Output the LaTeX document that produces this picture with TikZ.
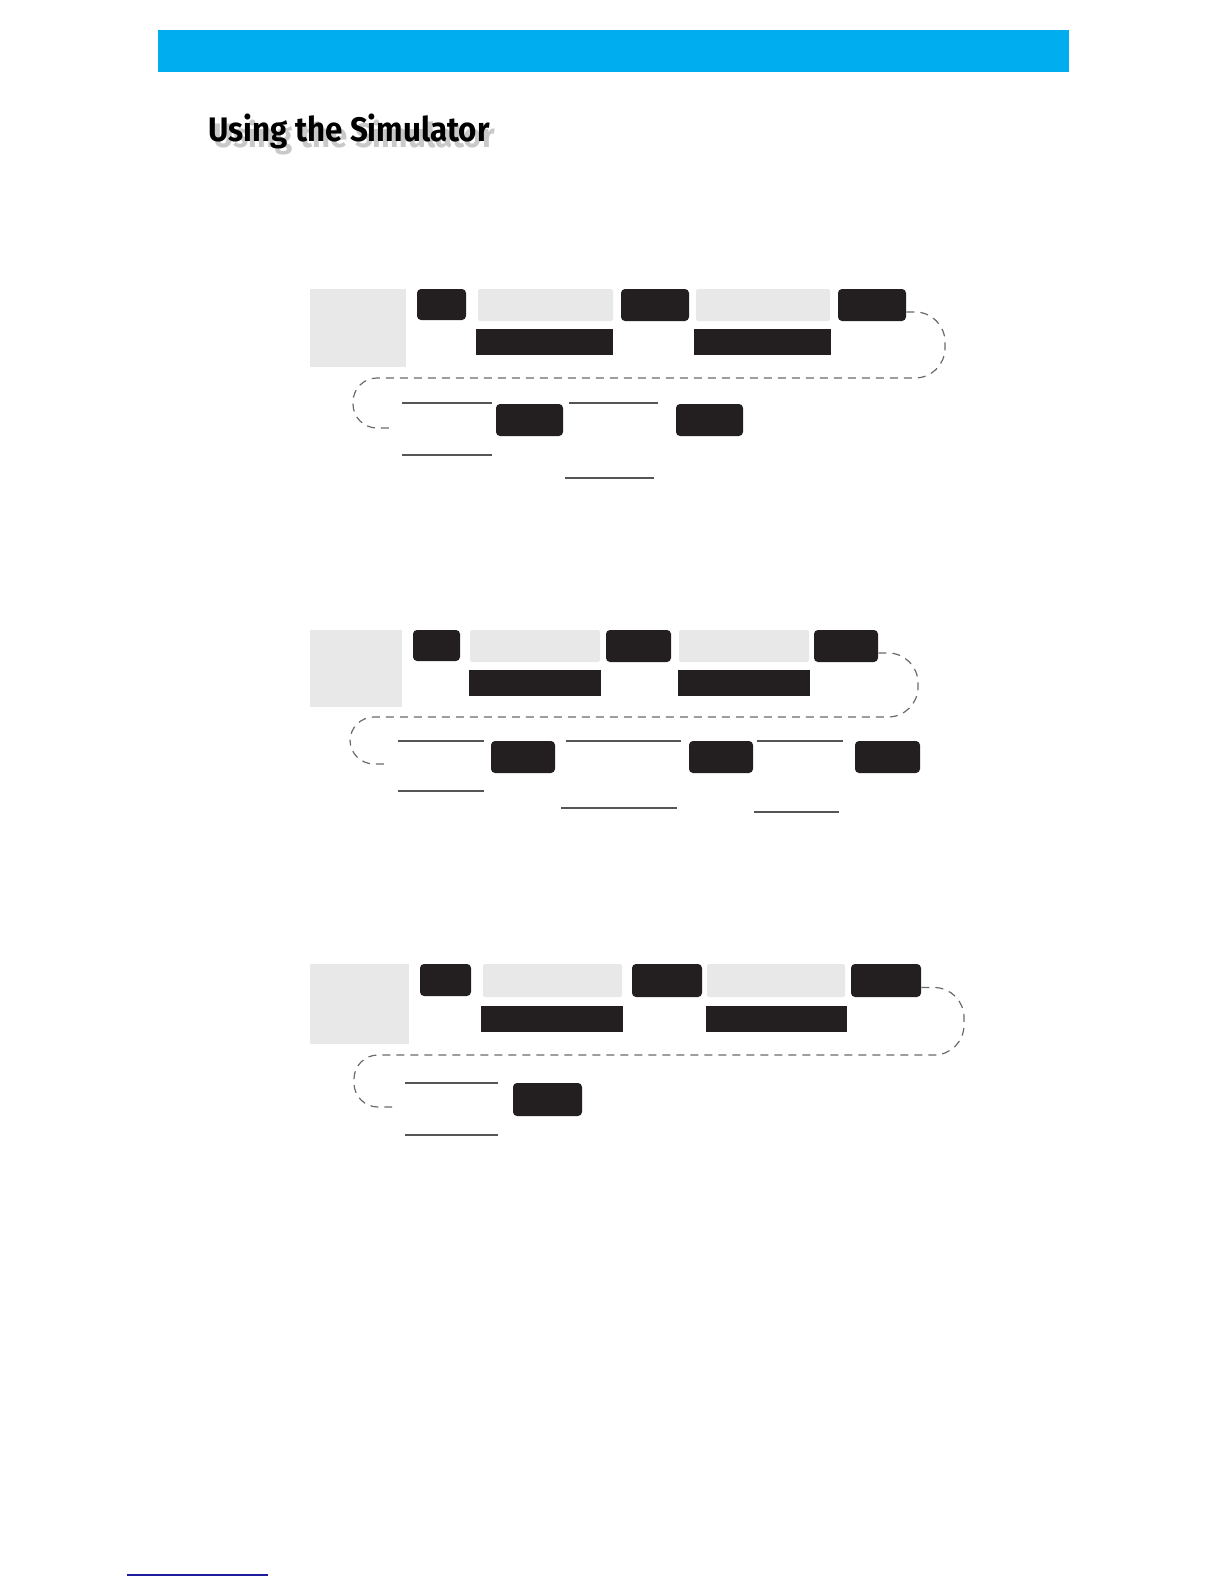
\documentclass[tikz,border=0pt]{standalone}
\usepackage{fontspec}
\setmainfont{Fira Sans}
\newfontfamily\headfont{Fira Sans}[FakeStretch=0.92]
\usepackage{xcolor}
\usetikzlibrary{fit, positioning}

\definecolor{keyblack}{HTML}{231F20}
\definecolor{panelgray}{HTML}{E8E8E8}
\definecolor{barblue}{HTML}{00AEEF}
\definecolor{linkblue}{HTML}{1C1C9C}
\definecolor{blankgray}{HTML}{555555}
\definecolor{dashgray}{HTML}{6A6A6A}

\tikzset{
  keycap/.style={fill=keyblack, rounded corners=2pt, inner sep=0pt},
  screen/.style={fill=panelgray, rounded corners=0.8pt, inner sep=0pt},
  readout/.style={fill=keyblack, inner sep=0pt},
  panel/.style={fill=panelgray, inner sep=0pt},
  blank/.style={draw=blankgray, line width=1pt},
  flowdash/.style={draw=dashgray, line width=0.6pt, dash pattern=on 4pt off 3pt},
  titletext/.style={anchor=base west, inner sep=0pt, font=\headfont\fontsize{17}{20}\selectfont\bfseries},
}

\begin{document}
\begin{tikzpicture}[x=0.5pt, y=-0.5pt]
\useasboundingbox (0,0) rectangle (1224,1584);

% header bar and title
\fill[barblue] (158,30) rectangle (1069,72);
\node[titletext, text=black!30, opacity=0.7] (titleshadow) at (213,148) {Using the Simulator};
\node[titletext] (title) at (208,141) {Using the Simulator};

% first sequence
\node[panel, fit={(310,289) (406,367)}] (g1) {};
\node[keycap, fit={(417,289) (466,320)}] (k11) {};
\node[screen, fit={(478,289) (613,321)}] (s11) {};
\node[keycap, fit={(621,289) (689,321)}] (k12) {};
\node[screen, fit={(696,289) (830,321)}] (s12) {};
\node[keycap, fit={(838,289) (906,321)}] (k13) {};
\node[readout, fit={(476,329) (613,355)}] (r11) {};
\node[readout, fit={(694,329) (831,355)}] (r12) {};
\coordinate (e1) at (389,428);
\draw[flowdash] ([yshift=-3.5pt]k13.east) [rounded corners=15pt] -| (945,378)
  [rounded corners=12pt] -| (353,428) -- (e1);
\draw[blank] (402,403) -- (492,403);
\draw[blank] (402,455) -- (492,455);
\node[keycap, fit={(496,404) (563,436)}] (k14) {};
\draw[blank] (569,403) -- (658,403);
\draw[blank] (565,478) -- (654,478);
\node[keycap, fit={(676,404) (743,436)}] (k15) {};

% second sequence
\node[panel, fit={(310,630) (402,707)}] (g2) {};
\node[keycap, fit={(413,630) (460,661)}] (k21) {};
\node[screen, fit={(470,630) (600,662)}] (s21) {};
\node[keycap, fit={(606,630) (671,662)}] (k22) {};
\node[screen, fit={(679,630) (809,662)}] (s22) {};
\node[keycap, fit={(814,630) (878,662)}] (k23) {};
\node[readout, fit={(469,670) (601,696)}] (r21) {};
\node[readout, fit={(678,670) (810,696)}] (r22) {};
\coordinate (e2) at (387,764);
\draw[flowdash] ([yshift=-3.5pt]k23.east) [rounded corners=15pt] -| (918,717)
  [rounded corners=12pt] -| (350,764) -- (e2);
\draw[blank] (398,741) -- (484,741);
\draw[blank] (398,791) -- (484,791);
\node[keycap, fit={(491,741) (555,773)}] (k24) {};
\draw[blank] (566,741) -- (681,741);
\draw[blank] (561,808) -- (677,808);
\node[keycap, fit={(689,741) (753,773)}] (k25) {};
\draw[blank] (757,741) -- (843,741);
\draw[blank] (754,812) -- (839,812);
\node[keycap, fit={(855,741) (920,773)}] (k26) {};

% third sequence
\node[panel, fit={(310,964) (409,1044)}] (g3) {};
\node[keycap, fit={(420,964) (471,996)}] (k31) {};
\node[screen, fit={(483,964) (622,997)}] (s31) {};
\node[keycap, fit={(632,964) (702,997)}] (k32) {};
\node[screen, fit={(707,964) (845,997)}] (s32) {};
\node[keycap, fit={(851,964) (921,997)}] (k33) {};
\node[readout, fit={(481,1006) (623,1032)}] (r31) {};
\node[readout, fit={(706,1006) (847,1032)}] (r32) {};
\coordinate (e3) at (392,1107);
\draw[flowdash] ([yshift=-3.5pt]k33.east) [rounded corners=15pt] -| (964,1055)
  [rounded corners=12pt] -| (354,1107) -- (e3);
\draw[blank] (405,1083) -- (498,1083);
\draw[blank] (405,1135) -- (498,1135);
\node[keycap, fit={(513,1083) (582,1116)}] (k34) {};

% link underline at the foot
\draw[linkblue, line width=1pt] (127,1575) -- (268,1575);
\end{tikzpicture}
\end{document}
